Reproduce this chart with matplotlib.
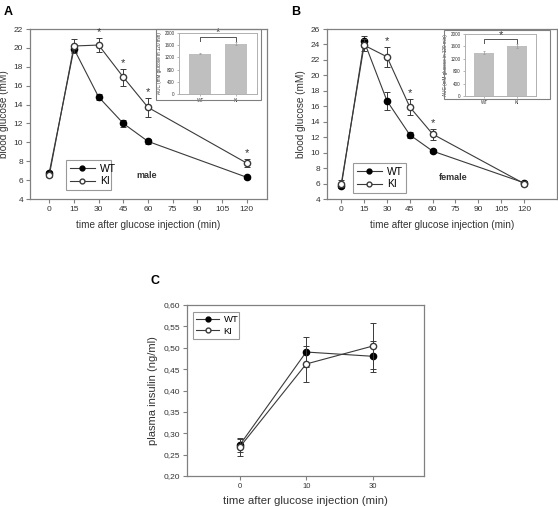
import matplotlib
matplotlib.use("Agg")
import matplotlib.pyplot as plt
from matplotlib.patches import Rectangle
from matplotlib.lines import Line2D

plt.rcParams['font.family'] = ['Liberation Sans', 'DejaVu Sans']

W, H = 558, 507

# data
t = [0, 15, 30, 45, 60, 120]
a_wt = [6.8, 19.9, 14.8, 12.0, 10.1, 6.3]
a_wt_err = [0.15, 0.3, 0.35, 0.35, 0.3, 0.15]
a_ki = [6.5, 20.2, 20.3, 16.9, 13.7, 7.8]
a_ki_err = [0.2, 0.7, 0.7, 0.9, 1.0, 0.4]
a_star = [30, 45, 60, 120]

b_wt = [5.7, 24.4, 16.7, 12.3, 10.2, 6.1]
b_wt_err = [0.3, 0.7, 1.2, 0.4, 0.3, 0.2]
b_ki = [6.0, 23.9, 22.4, 15.9, 12.4, 6.0]
b_ki_err = [0.4, 0.8, 1.3, 1.0, 0.7, 0.3]
b_star = [30, 45, 60]

auc_groups = ["WT", "KI"]
a_auc = [1320, 1650]
a_auc_err = [15, 40]
b_auc = [1400, 1620]
b_auc_err = [60, 60]

c_labels = ["0", "10", "30"]
c_wt = [0.272, 0.490, 0.480]
c_wt_err = [0.016, 0.035, 0.036]
c_ki = [0.267, 0.462, 0.504]
c_ki_err = [0.020, 0.042, 0.054]

LINE = '#3a3a3a'
SPINE = '#808080'
TXT = '#333333'


def box(l, t_, r, b):
    return [l / W, 1 - b / H, (r - l) / W, (b - t_) / H]


def style(ax, fs):
    for s in ax.spines.values():
        s.set_color(SPINE)
        s.set_linewidth(0.9)
    ax.tick_params(colors=SPINE, labelcolor=TXT, labelsize=fs, length=3, width=0.8, pad=2)


def add_legend(ax, rect, fs):
    hs = [Line2D([], [], color=LINE, lw=0.8, marker='o', ms=3.5, mfc='black', mec='black'),
          Line2D([], [], color=LINE, lw=0.8, marker='o', ms=3.5, mfc='white', mec=LINE)]
    lb = box(*rect)
    leg = ax.legend(hs, ['WT', 'KI'], loc='lower left',
                    bbox_to_anchor=(lb[0], lb[1], lb[2], lb[3]),
                    bbox_transform=fig.transFigure, mode='expand', fontsize=fs,
                    frameon=True, fancybox=False, edgecolor=SPINE, handlelength=2.4,
                    borderaxespad=0, borderpad=0.35, labelspacing=0.25, handletextpad=0.5)
    leg.get_frame().set_linewidth(0.8)


def glucose(rect, wt, wte, ki, kie, stars, ylim, yticks, xlim, sex, leg_rect, sex_xy):
    ax = fig.add_axes(box(*rect))
    ax.errorbar(t, wt, yerr=wte, color=LINE, lw=0.8, marker='o', ms=4.5,
                mfc='black', mec='black', capsize=2, elinewidth=0.7, capthick=0.7,
                zorder=3)
    ax.errorbar(t, ki, yerr=kie, color=LINE, lw=0.8, marker='o', ms=4.5,
                mfc='white', mec=LINE, capsize=2, elinewidth=0.7, capthick=0.7,
                zorder=4)
    for x in stars:
        i = t.index(x)
        ax.text(x, ki[i] + kie[i] + 0.1, '*', ha='center', va='bottom',
                fontsize=8, color=TXT)
    ax.set_xlim(*xlim)
    ax.set_ylim(*ylim)
    ax.set_yticks(yticks)
    ax.set_xticks([0, 15, 30, 45, 60, 75, 90, 105, 120])
    style(ax, 6)
    ax.set_ylabel('blood glucose (mM)', fontsize=7.2, color=TXT, labelpad=3)
    ax.set_xlabel('time after glucose injection (min)', fontsize=7.2, color=TXT, labelpad=5)
    add_legend(ax, leg_rect, 7.5)
    fig.text(sex_xy[0] / W, 1 - sex_xy[1] / H, sex, fontsize=6.5, fontweight='bold',
             ha='center', va='center', color=TXT)
    return ax


def inset(frame, rect, vals, errs, br):
    fig.patches.append(Rectangle((frame[0] / W, 1 - frame[3] / H),
                                 (frame[2] - frame[0]) / W, (frame[3] - frame[1]) / H,
                                 transform=fig.transFigure, fill=False,
                                 edgecolor=SPINE, lw=0.8))
    ax = fig.add_axes(box(*rect))
    ax.bar([0, 1], vals, width=0.62, color='#bfbfbf', yerr=errs,
           error_kw=dict(ecolor='#999999', elinewidth=0.5, capsize=1, capthick=0.5))
    ax.set_xlim(-0.6, 1.6)
    ax.set_ylim(0, 2000)
    ax.set_yticks([0, 400, 800, 1200, 1600, 2000])
    ax.set_xticks([0, 1])
    ax.set_xticklabels(auc_groups)
    for s in ax.spines.values():
        s.set_color('#b0b0b0')
        s.set_linewidth(0.7)
    ax.tick_params(colors='#999999', labelcolor=TXT, labelsize=3.3, length=1.5, width=0.5, pad=1.5)
    ax.set_ylabel('AUC (mM glucose in 120 min)', fontsize=3.3, color=TXT, labelpad=2)
    ax.plot([0, 0, 1, 1], [br[0], br[1], br[1], br[0]], color='#555555', lw=0.7)
    ax.text(0.5, br[1] - 20, '*', ha='center', va='bottom', fontsize=8, color=TXT)
    return ax


fig = plt.figure(figsize=(W / 100, H / 100), dpi=100)

# panel A
glucose((30, 29, 267, 199), a_wt, a_wt_err, a_ki, a_ki_err, a_star,
        (4, 22), range(4, 23, 2), (-11.7, 132.3), 'male',
        (66, 162, 111, 190), (147, 175))
inset((156, 29, 261, 100), (179, 33, 257, 94), a_auc, a_auc_err, (1750, 1870))

# panel B
glucose((327, 29, 557, 199), b_wt, b_wt_err, b_ki, b_ki_err, b_star,
        (4, 26), range(4, 27, 2), (-9.4, 141.7), 'female',
        (353, 163, 406, 193), (453, 177))
inset((444, 30, 550, 99), (465, 34, 536, 96), b_auc, b_auc_err, (1720, 1840))

# panel C
axc = fig.add_axes(box(187, 305, 424, 476))
xc = [0, 1, 2]
axc.errorbar(xc, c_wt, yerr=c_wt_err, color=LINE, lw=0.8, marker='o', ms=4.5,
             mfc='black', mec='black', capsize=2.5, elinewidth=0.7, capthick=0.7,
             zorder=3)
axc.errorbar(xc, c_ki, yerr=c_ki_err, color=LINE, lw=0.8, marker='o', ms=4.5,
             mfc='white', mec=LINE, capsize=2.5, elinewidth=0.7, capthick=0.7,
             zorder=4)
axc.set_xlim(-0.79, 2.77)
axc.set_ylim(0.2, 0.6)
yt = [0.20, 0.25, 0.30, 0.35, 0.40, 0.45, 0.50, 0.55, 0.60]
axc.set_yticks(yt)
axc.set_yticklabels([('%.2f' % v).replace('.', ',') for v in yt])
axc.set_xticks(xc)
axc.set_xticklabels(c_labels)
style(axc, 6)
axc.tick_params(axis='x', labelsize=5.5)
axc.set_ylabel('plasma insulin (ng/ml)', fontsize=8, color=TXT, labelpad=4)
axc.set_xlabel('time after glucose injection (min)', fontsize=8.2, color=TXT, labelpad=4)
add_legend(axc, (193, 310, 239, 339), 6.8)

# panel letters
fig.text(8 / W, 1 - 12 / H, 'A', fontsize=9, fontweight='bold', ha='center', va='center')
fig.text(296 / W, 1 - 12 / H, 'B', fontsize=9, fontweight='bold', ha='center', va='center')
fig.text(155 / W, 1 - 281 / H, 'C', fontsize=9, fontweight='bold', ha='center', va='center')

fig.savefig('out.png', dpi=100)
